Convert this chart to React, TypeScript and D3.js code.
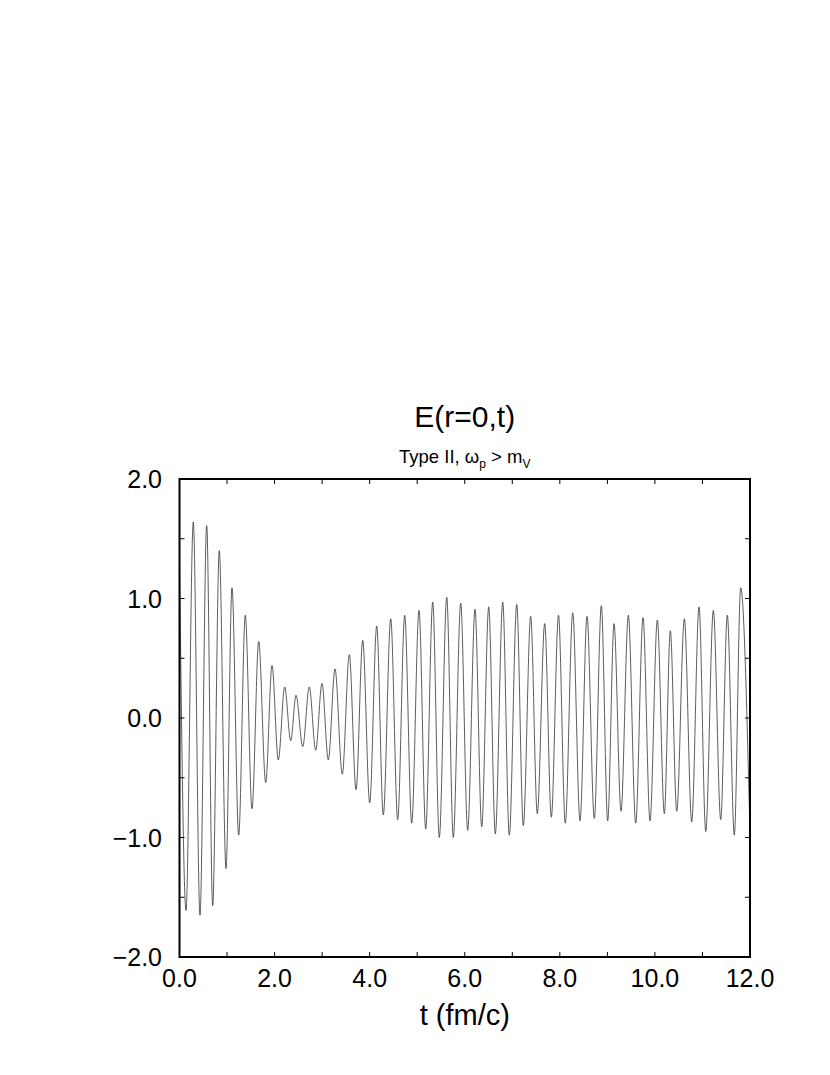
import React from "react";
import * as d3 from "d3";

// Time (fm/c) of each turning point of the curve
const tValues = [
  0.0, 0.137, 0.29, 0.431, 0.572, 0.698, 0.837, 0.978, 1.104, 1.245,
  1.384, 1.525, 1.666, 1.813, 1.946, 2.078, 2.213, 2.339, 2.451, 2.592,
  2.73, 2.865, 2.997, 3.13, 3.271, 3.424, 3.572, 3.713, 3.854, 4.001,
  4.148, 4.287, 4.443, 4.59, 4.737, 4.884, 5.038, 5.179, 5.326, 5.465,
  5.621, 5.759, 5.915, 6.062, 6.216, 6.357, 6.504, 6.643, 6.799, 6.937,
  7.093, 7.232, 7.387, 7.526, 7.682, 7.821, 7.972, 8.115, 8.271, 8.425,
  8.572, 8.725, 8.873, 9.007, 9.14, 9.287, 9.441, 9.596, 9.75, 9.897,
  10.051, 10.198, 10.324, 10.459, 10.619, 10.774, 10.928, 11.069, 11.229, 11.384,
  11.523, 11.67, 11.804, 12.0,
];

// E(r=0,t) at each of those turning points
const eValues = [
  1.3, -1.61, 1.64, -1.65, 1.61, -1.57, 1.4, -1.26, 1.09, -0.98,
  0.86, -0.76, 0.64, -0.54, 0.44, -0.35, 0.26, -0.19, 0.19, -0.24,
  0.26, -0.27, 0.29, -0.35, 0.41, -0.47, 0.53, -0.6, 0.65, -0.71,
  0.77, -0.81, 0.83, -0.85, 0.86, -0.88, 0.9, -0.93, 0.97, -1.0,
  1.01, -1.0, 0.96, -0.94, 0.91, -0.91, 0.93, -0.97, 0.97, -0.98,
  0.95, -0.9, 0.85, -0.8, 0.79, -0.83, 0.86, -0.88, 0.88, -0.86,
  0.85, -0.84, 0.94, -0.86, 0.79, -0.78, 0.86, -0.88, 0.84, -0.86,
  0.82, -0.8, 0.73, -0.78, 0.83, -0.87, 0.93, -0.95, 0.9, -0.85,
  0.86, -0.98, 1.09, -0.97,
];

const xMajorTicks = [0, 2, 4, 6, 8, 10, 12];
const xMinorTicks = [1, 3, 5, 7, 9, 11];
const yMajorTicks = [-2, -1, 0, 1, 2];
const yMinorTicks = [-1.5, -0.5, 0.5, 1.5];

const title = "E(r=0,t)";
const xTitle = "t (fm/c)";

const W = 830;
const H = 1075;
const left = 179.5;
const right = 750;
const top = 479;
const bottom = 957;
const FONT = "'Liberation Sans', Arial, Helvetica, sans-serif";

export default function App() {
  const x = d3.scaleLinear().domain([0, 12]).range([left, right]);
  const y = d3.scaleLinear().domain([-2, 2]).range([bottom, top]);

  const pts: [number, number][] = tValues.map((t, i) => [t, eValues[i]]);
  const line = d3
    .line<[number, number]>()
    .x((d) => x(d[0]))
    .y((d) => y(d[1]))
    .curve(d3.curveMonotoneX);

  const tickLen = 5;
  const fmt = (v: number) => (v < 0 ? "\u2212" + Math.abs(v).toFixed(1) : v.toFixed(1));
  const cx = (left + right) / 2;

  return (
    <svg
      width={W}
      height={H}
      style={{ position: "absolute", left: 0, top: 0, background: "#fff" }}
      fontFamily={FONT}
    >
      <rect x={0} y={0} width={W} height={H} fill="#fff" />
      <defs>
        <clipPath id="plotclip">
          <rect x={left} y={top} width={right - left} height={bottom - top} />
        </clipPath>
      </defs>

      {/* curve */}
      <path
        d={line(pts) || ""}
        fill="none"
        stroke="#333"
        strokeWidth={0.8}
        clipPath="url(#plotclip)"
      />

      {/* ticks */}
      <g stroke="#000" strokeWidth={1}>
        {[...xMajorTicks, ...xMinorTicks].map((t) => (
          <g key={"xt" + t}>
            <line x1={x(t)} x2={x(t)} y1={bottom} y2={bottom - tickLen} />
            <line x1={x(t)} x2={x(t)} y1={top} y2={top + tickLen} />
          </g>
        ))}
        {[...yMajorTicks, ...yMinorTicks].map((v) => (
          <g key={"yt" + v}>
            <line x1={left} x2={left + tickLen} y1={y(v)} y2={y(v)} />
            <line x1={right} x2={right - tickLen} y1={y(v)} y2={y(v)} />
          </g>
        ))}
      </g>

      {/* frame */}
      <rect
        x={left}
        y={top}
        width={right - left}
        height={bottom - top}
        fill="none"
        stroke="#000"
        strokeWidth={2}
      />

      {/* tick labels */}
      <g fontSize={25} fill="#000">
        {xMajorTicks.map((t) => (
          <text key={"xl" + t} x={x(t)} y={987} textAnchor="middle">
            {fmt(t)}
          </text>
        ))}
        {yMajorTicks.map((v) => (
          <text key={"yl" + v} x={162} y={y(v) + 9} textAnchor="end">
            {fmt(v)}
          </text>
        ))}
      </g>

      {/* titles */}
      <text x={cx} y={427} textAnchor="middle" fontSize={30} fill="#000">
        {title}
      </text>
      <text x={cx} y={463} textAnchor="middle" fontSize={18.5} fill="#000">
        Type II, ω
        <tspan fontSize={12} dy={5}>p</tspan>
        <tspan dy={-5}> &gt; m</tspan>
        <tspan fontSize={12} dy={5}>V</tspan>
      </text>
      <text x={cx} y={1025} textAnchor="middle" fontSize={29} fill="#000">
        {xTitle}
      </text>
    </svg>
  );
}
